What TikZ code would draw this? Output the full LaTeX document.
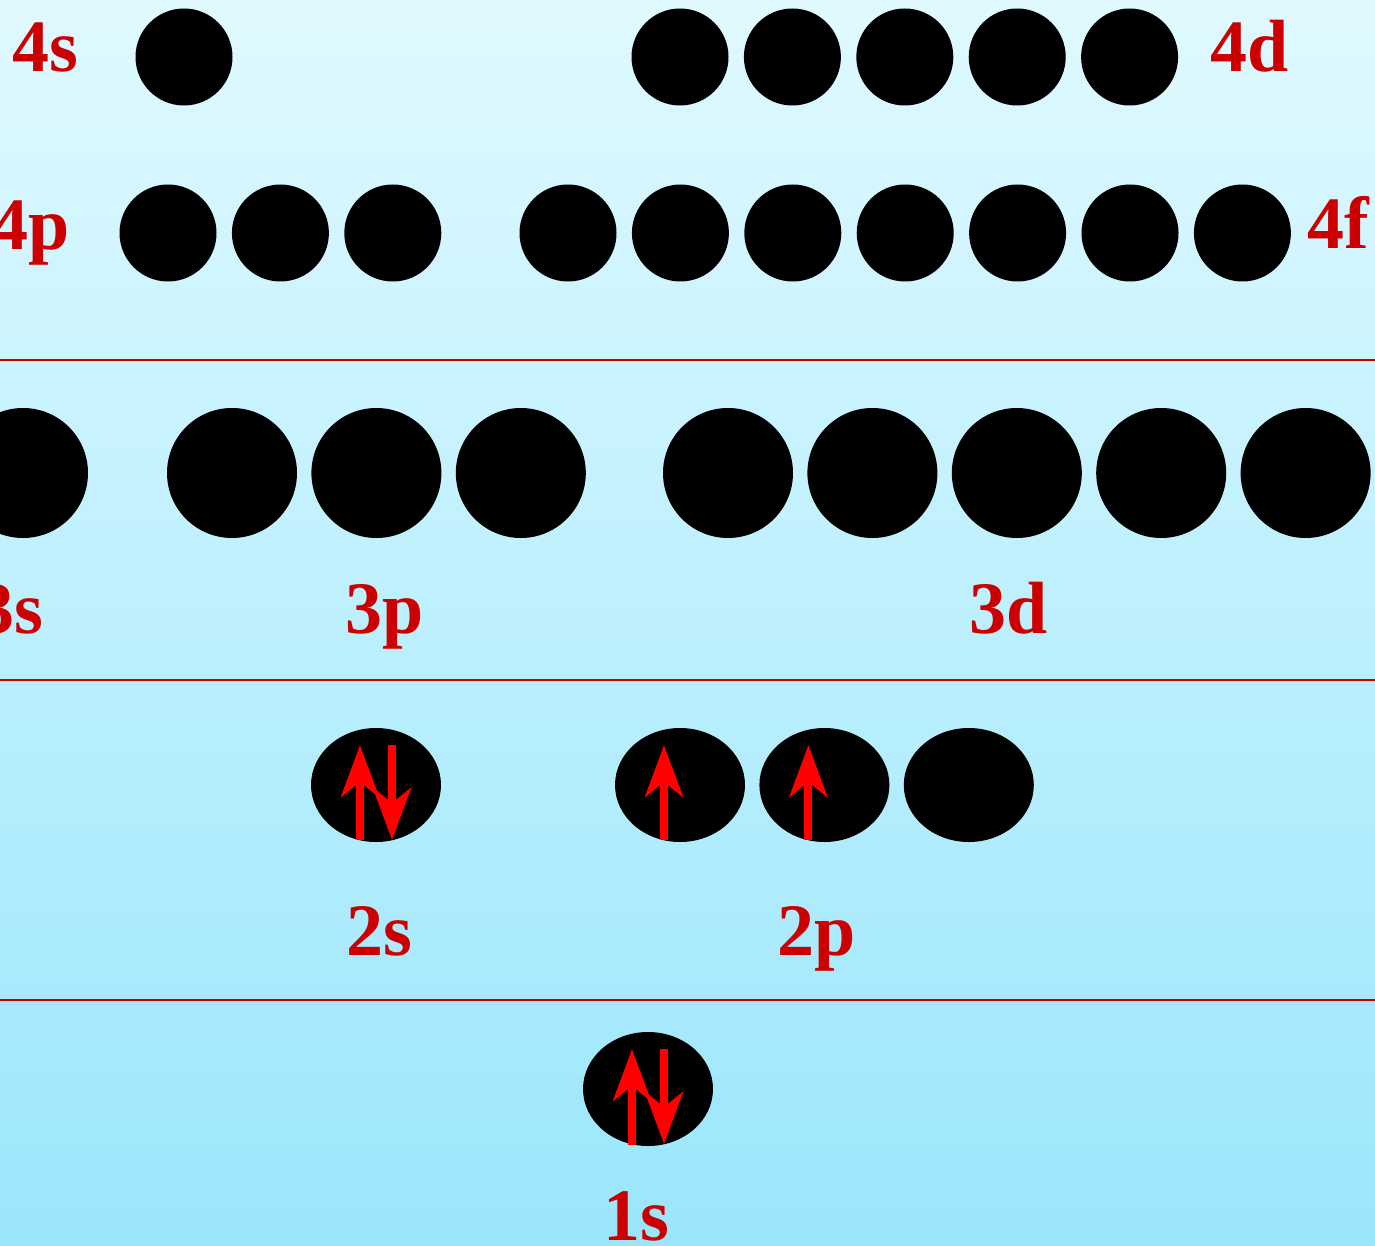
\documentclass[tikz,border=0pt]{standalone}
\usepackage{fontspec}
\setmainfont{Liberation Serif}
\usepackage{tikz}
\usetikzlibrary{shapes.geometric, arrows.meta, positioning}
\definecolor{shellred}{HTML}{CC0000}
\definecolor{spinred}{HTML}{FF0000}
\definecolor{bgtop}{HTML}{E0F9FF}
\definecolor{bgbottom}{HTML}{9AE6FC}

\begin{document}
\begin{tikzpicture}[
  x=1pt, y=-1pt,
  node distance=15pt,
  orb/.style={circle, fill=black, minimum size=97pt, inner sep=0pt},
  bigorb/.style={circle, fill=black, minimum size=130pt, inner sep=0pt},
  flatorb/.style={ellipse, fill=black, minimum width=130pt,
                  minimum height=114pt, inner sep=0pt},
  lbl/.style={anchor=base, text=shellred, inner sep=0pt,
              font=\fontsize{74}{80}\selectfont\bfseries},
  shell/.style={draw=shellred, line width=2pt},
  spin/.style={draw=spinred, line width=8pt,
               -{Stealth[length=52pt, width=38pt, inset=15pt]}}
]

\useasboundingbox (0,0) rectangle (1375,1246);
\clip (0,0) rectangle (1375,1246);
\shade[top color=bgtop, bottom color=bgbottom] (0,0) rectangle (1375,1246);

% shell separators
\draw[shell] (0,360) -- (1375,360);
\draw[shell] (0,680) -- (1375,680);
\draw[shell] (0,1000) -- (1375,1000);

% n = 4
\node[orb] (o4s) at (184,57) {};
\node[orb] (o4d1) at (680,57) {};
\node[orb, right=of o4d1] (o4d2) {};
\node[orb, right=of o4d2] (o4d3) {};
\node[orb, right=of o4d3] (o4d4) {};
\node[orb, right=of o4d4] (o4d5) {};

\node[orb] (o4p1) at (168,233) {};
\node[orb, right=of o4p1] (o4p2) {};
\node[orb, right=of o4p2] (o4p3) {};

\node[orb] (o4f1) at (568,233) {};
\node[orb, right=of o4f1] (o4f2) {};
\node[orb, right=of o4f2] (o4f3) {};
\node[orb, right=of o4f3] (o4f4) {};
\node[orb, right=of o4f4] (o4f5) {};
\node[orb, right=of o4f5] (o4f6) {};
\node[orb, right=of o4f6] (o4f7) {};

\node[lbl] (l4s) at (45,72) {4s};
\node[lbl] (l4d) at (1250,72) {4d};
\node[lbl] (l4p) at (31,250) {4p};
\node[lbl] (l4f) at (1338,249) {4f};

% n = 3
\node[bigorb] (o3s) at (23,473) {};
\node[bigorb] (o3p1) at (232,473) {};
\node[bigorb, right=14pt of o3p1] (o3p2) {};
\node[bigorb, right=14pt of o3p2] (o3p3) {};

\node[bigorb] (o3d1) at (728,473) {};
\node[bigorb, right=14pt of o3d1] (o3d2) {};
\node[bigorb, right=14pt of o3d2] (o3d3) {};
\node[bigorb, right=14pt of o3d3] (o3d4) {};
\node[bigorb, right=14pt of o3d4] (o3d5) {};

\node[lbl] (l3s) at (10,633) {3s};
\node[lbl] (l3p) at (385,633) {3p};
\node[lbl] (l3d) at (1009,633) {3d};

% n = 2
\node[flatorb] (o2s) at (376,785) {};
\node[flatorb] (o2p1) at (680,785) {};
\node[flatorb, right=14pt of o2p1] (o2p2) {};
\node[flatorb, right=14pt of o2p2] (o2p3) {};

\draw[spin] ([shift={(-16,55)}]o2s.center) -- ++(0,-95);
\draw[spin] ([shift={(16,-40)}]o2s.center) -- ++(0,95);
\draw[spin] ([shift={(-16,55)}]o2p1.center) -- ++(0,-95);
\draw[spin] ([shift={(-16,55)}]o2p2.center) -- ++(0,-95);

\node[lbl] (l2s) at (379,955) {2s};
\node[lbl] (l2p) at (817,955) {2p};

% n = 1
\node[flatorb] (o1s) at (648,1089) {};
\draw[spin] ([shift={(-16,56)}]o1s.center) -- ++(0,-96);
\draw[spin] ([shift={(16,-40)}]o1s.center) -- ++(0,95);

\node[lbl] (l1s) at (636,1240) {1s};
\end{tikzpicture}
\end{document}
